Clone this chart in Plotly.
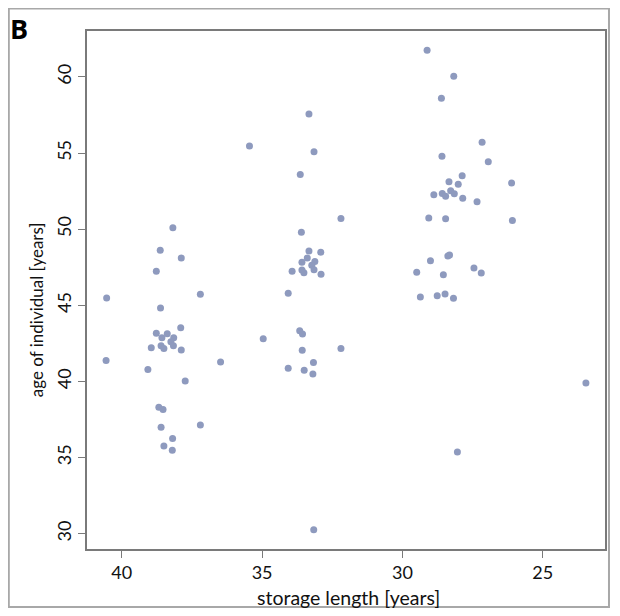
import plotly.graph_objects as go

# storage length [years] (x) and age of individual [years] (y)
storage_length = [
    38.18, 38.63, 37.88, 38.77, 40.54, 37.20, 38.62, 37.90, 38.77, 38.38,
    38.57, 38.15, 38.25, 38.95, 38.60, 38.50, 38.16, 37.88, 40.56, 36.48,
    39.07, 37.74, 38.68, 38.53, 38.60, 37.20, 38.19, 38.50, 38.20,
    33.33, 35.45, 33.15, 33.64, 32.19, 33.60, 33.33, 32.91, 33.39, 33.58,
    33.12, 33.23, 33.93, 33.58, 33.51, 33.15, 32.90, 34.07, 33.66, 33.56,
    34.96, 32.19, 33.57, 33.17, 34.07, 33.50, 33.19, 33.16,
    29.12, 28.17, 28.61, 27.16, 28.59, 26.94, 27.87, 28.34, 28.01, 26.11,
    28.88, 28.58, 28.46, 28.28, 28.15, 27.85, 27.34, 29.06, 28.46, 26.08,
    28.38, 28.32, 29.00, 29.49, 28.54, 27.45, 27.19, 29.36, 28.76, 28.48,
    28.18, 28.04,
    23.46,
]
age_of_individual = [
    50.09, 48.62, 48.11, 47.24, 45.48, 45.72, 44.82, 43.53, 43.16, 43.13,
    42.87, 42.87, 42.61, 42.21, 42.34, 42.17, 42.34, 42.06, 41.38, 41.27,
    40.79, 40.02, 38.31, 38.16, 36.99, 37.14, 36.25, 35.76, 35.48,
    57.57, 55.46, 55.09, 53.60, 50.71, 49.80, 48.57, 48.49, 48.11, 47.83,
    47.87, 47.63, 47.24, 47.32, 47.14, 47.34, 47.04, 45.79, 43.33, 43.11,
    42.81, 42.16, 42.04, 41.25, 40.86, 40.74, 40.48, 30.26,
    61.75, 60.04, 58.61, 55.71, 54.79, 54.43, 53.51, 53.11, 52.95, 53.03,
    52.26, 52.34, 52.17, 52.52, 52.32, 52.04, 51.80, 50.74, 50.68, 50.57,
    48.24, 48.31, 47.93, 47.17, 47.01, 47.45, 47.12, 45.55, 45.63, 45.74,
    45.46, 35.37,
    39.89,
]
x_ticks = [40, 35, 30, 25]
y_ticks = [30, 35, 40, 45, 50, 55, 60]
x_title = "storage length [years]"
y_title = "age of individual [years]"
panel_label = "B"

# page body has an 8px margin; figure sized so it fits the 620x616 window
OFF = 8
W, H = 604, 600
ML, MT = 87 - OFF, 31 - OFF
MR = W - (607 - OFF)
MB = H - (549 - OFF)
PW, PH = W - ML - MR, H - MT - MB


def px(xw):
    return (xw - OFF - ML) / PW


def py(yw):
    return (H - MB - (yw - OFF)) / PH


font_family = "Lato, 'Open Sans', sans-serif"
axis_color = "#7a7a7a"

fig = go.Figure(
    go.Scatter(
        x=storage_length,
        y=age_of_individual,
        mode="markers",
        marker=dict(color="#8e9abe", size=7, line=dict(width=0)),
        hoverinfo="x+y",
    )
)

fig.update_layout(
    width=W,
    height=H,
    margin=dict(l=ML, r=MR, t=MT, b=MB),
    paper_bgcolor="white",
    plot_bgcolor="white",
    showlegend=False,
    font=dict(family=font_family, size=16, color="#111111"),
)

common = dict(
    ticks="outside",
    ticklen=7,
    tickwidth=1,
    tickcolor=axis_color,
    showline=True,
    linecolor=axis_color,
    linewidth=1.5,
    mirror=True,
    showgrid=False,
    zeroline=False,
    tickfont=dict(size=18),
)
fig.update_xaxes(
    range=[41.24, 22.78],
    tickvals=x_ticks,
    ticktext=[str(v) for v in x_ticks],
    **common,
)
fig.update_yaxes(
    range=[28.99, 63.02],
    tickvals=y_ticks,
    ticktext=[str(v) for v in y_ticks],
    tickangle=-90,
    **common,
)

# axis titles and panel label
fig.add_annotation(
    text=x_title, xref="paper", yref="paper",
    x=px(350), y=py(597),
    showarrow=False, font=dict(size=19.5), xanchor="center", yanchor="middle",
)
fig.add_annotation(
    text=y_title, xref="paper", yref="paper",
    x=px(37), y=py(310),
    textangle=-90, showarrow=False, font=dict(size=17),
    xanchor="center", yanchor="middle",
)
fig.add_annotation(
    text="<b>" + panel_label + "</b>", xref="paper", yref="paper",
    x=px(8), y=py(8),
    showarrow=False, font=dict(size=27, family="'Open Sans', sans-serif", color="black"),
    xanchor="left", yanchor="top",
)

# outer figure border
fig.add_shape(
    type="rect", xref="paper", yref="paper",
    x0=-ML / PW + 0.5 / PW, x1=(W - ML - 1) / PW,
    y0=-MB / PH + 1 / PH, y1=(PH + MT - 0.5) / PH,
    line=dict(color="#a8a8a8", width=2), fillcolor="rgba(0,0,0,0)",
    layer="below",
)

fig.write_html("out.html")
